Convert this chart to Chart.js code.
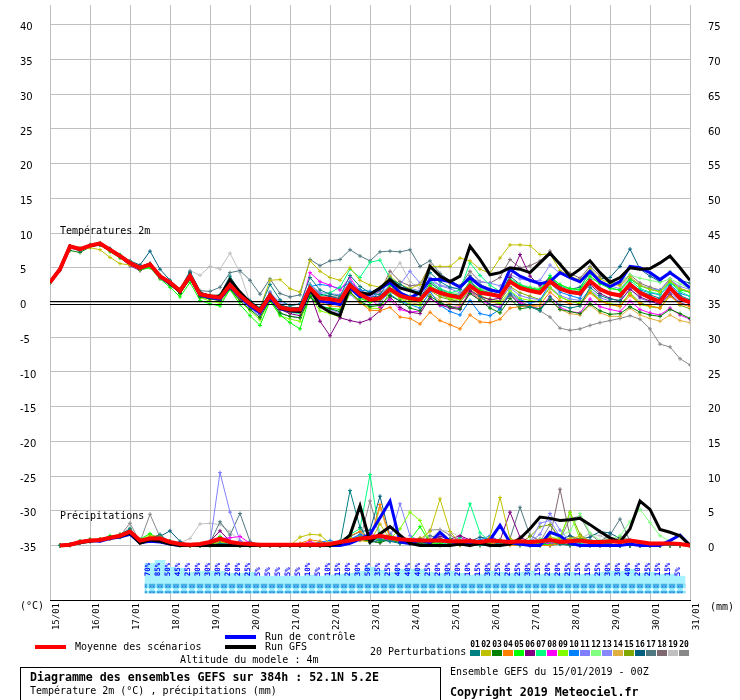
<!DOCTYPE html>
<html><head><meta charset="utf-8">
<script src="https://cdn.jsdelivr.net/npm/chart.js@4.4.1/dist/chart.umd.min.js"></script>
<style>
body{margin:0;background:#fff;}
#wrap{position:relative;width:740px;height:700px;overflow:hidden;font-family:"DejaVu Sans Mono",monospace;font-size:10px;color:#000;background:#fff;}
canvas{position:absolute;left:0;top:0;}
.t{position:absolute;white-space:pre;line-height:12px;}
.b{font-weight:bold;font-size:11.6px;}
.sw{position:absolute;width:10px;height:6px;}
.num{position:absolute;font-weight:bold;font-size:8px;line-height:9px;width:11px;text-align:center;}
.ln{position:absolute;width:31px;height:4px;}
#box{position:absolute;left:20px;top:667px;width:419px;height:40px;border:1px solid #000;}
</style></head><body>
<div id="wrap">
<canvas id="c" width="740" height="700"></canvas>
<div class="t" style="left:60px;top:225px">Températures 2m</div>
<div class="t" style="left:60px;top:510px">Précipitations</div>
<div class="t" style="left:20px;top:600px">(°C)</div>
<div class="t" style="left:710px;top:601px">(mm)</div>
<div class="ln" style="left:35px;top:645px;background:#ff0000"></div>
<div class="t" style="left:75px;top:641px">Moyenne des scénarios</div>
<div class="ln" style="left:225px;top:635px;background:#0000ff"></div>
<div class="t" style="left:265px;top:631px">Run de contrôle</div>
<div class="ln" style="left:225px;top:645px;background:#000"></div>
<div class="t" style="left:265px;top:641px">Run GFS</div>
<div class="t" style="left:180px;top:654px">Altitude du modele : 4m</div>
<div class="t" style="left:370px;top:646px">20 Perturbations</div>
<div id="box"></div>
<div class="t b" style="left:30px;top:671px">Diagramme des ensembles GEFS sur 384h : 52.1N 5.2E</div>
<div class="t" style="left:30px;top:685px">Température 2m (°C) , précipitations (mm)</div>
<div class="t" style="left:450px;top:666px">Ensemble GEFS du 15/01/2019 - 00Z</div>
<div class="t b" style="left:450px;top:686px">Copyright 2019 Meteociel.fr</div>
<div id="swatches"></div>
</div>
<script>
// ---- axes / labels ----
const steps = Array.from({length:65}, (_, i) => i);          // 6-hourly steps, 0..384h
const dayLabels = ['15/01','16/01','17/01','18/01','19/01','20/01','21/01','22/01','23/01','24/01','25/01','26/01','27/01','28/01','29/01','30/01','31/01'];
const tempTicks = [-35,-30,-25,-20,-15,-10,-5,0,5,10,15,20,25,30,35,40];
const precipTicks = [0,5,10,15,20,25,30,35,40,45,50,55,60,65,70,75];
const freezingLevel = 0;
const memberNames = ['01','02','03','04','05','06','07','08','09','10','11','12','13','14','15','16','17','18','19','20'];
const memberColors = ['#008080','#c0c000','#008000','#ff8000','#00ff00','#800080','#00ff80','#ff00ff','#80ff00','#0080ff','#8080ff','#80ff80','#8888ff','#e0b040','#80a800','#005f7f','#507880','#806870','#c0c0c0','#888888'];

// ---- temperature 2m (°C) ----
const meanTemp = [2.9,4.8,8.1,7.7,8.2,8.5,7.6,6.7,5.7,5.0,5.5,3.8,2.9,1.7,3.8,1.2,0.9,0.7,2.5,1.0,-0.2,-1.2,1.0,-0.7,-1.0,-1.0,2.1,0.6,0.5,0.2,2.5,1.2,0.4,0.6,1.9,1.0,0.6,0.4,2.0,1.4,1.0,0.7,2.4,1.4,1.2,0.9,3.0,2.1,1.7,1.4,3.0,2.0,1.5,1.3,3.1,1.9,1.3,1.0,2.6,1.4,0.7,0.1,2.1,0.6,0.0];
const gfsTemp = [2.9,4.8,8.1,7.7,8.2,8.5,7.6,6.7,5.7,5.0,5.5,3.8,2.8,1.6,3.9,1.3,0.9,0.9,3.3,1.5,0.0,-1.1,1.1,-0.8,-1.2,-1.3,1.9,-0.5,-1.4,-1.9,2.4,1.4,1.2,2.1,3.3,2.1,1.7,1.2,5.2,3.8,3.0,3.8,8.1,6.2,4.0,4.3,5.0,4.8,4.3,5.7,7.1,5.5,3.8,4.8,6.0,4.3,2.9,3.6,5.0,4.8,4.9,5.7,6.7,5.0,3.2];
const ctrlTemp = [2.9,4.8,8.1,7.7,8.2,8.5,7.6,6.7,5.7,5.0,5.5,3.7,2.8,1.6,3.7,1.1,0.7,0.5,2.3,0.8,-0.5,-1.5,0.7,-0.9,-1.2,-1.3,1.8,0.2,0.0,-0.3,2.1,0.8,1.2,2.0,2.9,1.4,0.7,1.4,3.3,3.3,3.0,2.2,3.6,2.4,1.8,1.5,4.8,3.8,3.2,2.7,3.0,4.3,3.6,3.0,4.5,3.0,2.3,3.0,5.2,5.0,4.3,3.3,4.3,3.3,2.1];
const p01Temp = [2.9,4.7,8.0,7.4,8.3,8.4,7.8,6.6,5.8,5.1,5.6,3.6,2.7,1.5,4.2,1.0,0.8,1.1,3.8,1.5,0.3,-0.8,2.6,0.4,-0.5,-0.2,3.6,1.8,1.2,0.9,3.9,2.3,1.4,1.1,3.5,2.6,1.8,1.5,4.3,3.0,2.2,1.9,3.4,0.9,-0.3,-0.9,1.2,-0.4,-0.6,-1.2,0.8,-0.4,-0.8,-0.5,2.2,1.0,0.5,0.3,2.8,1.6,1.1,0.6,2.4,1.0,0.4];
const p02Temp = [2.8,4.9,8.0,7.6,7.9,7.6,6.5,5.6,5.4,4.9,5.2,3.5,2.8,1.8,3.5,1.4,1.0,0.8,2.2,0.9,-0.4,-0.8,3.2,3.3,2.0,1.5,6.0,4.5,3.6,3.2,5.0,3.2,2.5,2.2,3.8,2.6,2.0,2.6,5.2,5.2,5.2,6.4,6.0,4.8,4.2,6.4,8.3,8.3,8.2,6.9,7.0,4.6,3.8,3.2,4.9,3.4,2.8,2.4,3.7,2.5,1.9,1.5,3.1,2.0,1.6];
const p03Temp = [2.9,4.8,7.5,7.2,8.0,8.3,7.5,6.6,5.5,4.8,5.2,3.6,2.6,1.3,3.4,0.8,0.5,0.3,2.0,0.2,-1.0,-2.2,0.4,-1.5,-2.0,-2.2,0.8,-0.6,-0.9,-1.3,1.5,0.2,-0.6,-0.4,1.0,0.2,-0.8,-1.2,0.9,0.0,-0.6,-0.9,1.3,0.3,-0.8,-1.5,0.6,-0.9,-0.7,-0.9,0.4,-1.0,-1.3,-1.6,-0.2,-1.2,-1.7,-1.6,-0.6,-1.4,-1.8,-2.0,-1.0,-1.6,-2.3];
const p04Temp = [2.9,4.8,8.0,7.8,8.3,8.5,7.7,6.7,5.6,4.9,5.5,3.9,2.9,1.7,3.9,1.0,0.5,0.3,2.1,0.5,-0.6,-1.6,0.9,-0.9,-1.3,-1.4,1.7,0.0,-0.5,-0.6,1.6,0.0,-1.1,-1.2,-0.7,-2.1,-2.3,-3.1,-1.4,-2.6,-3.2,-3.8,-1.8,-2.8,-2.9,-2.4,-0.8,-0.6,-0.5,-0.3,1.5,0.3,-0.2,-0.4,1.4,0.2,-0.3,-0.5,1.0,-0.2,-0.5,-0.8,0.9,-0.2,-0.6];
const p05Temp = [2.9,4.7,8.0,7.6,8.1,8.3,7.3,6.4,5.6,4.7,5.0,3.4,2.2,0.8,2.9,0.3,-0.2,-0.5,1.9,-0.3,-1.9,-3.3,0.2,-1.8,-2.9,-3.8,1.0,-0.6,-0.8,-1.0,1.9,0.6,0.0,0.5,2.5,1.2,0.5,0.2,2.4,1.6,1.2,0.9,3.0,1.8,1.3,1.0,3.2,2.4,2.0,1.9,3.6,2.6,2.0,1.9,3.8,2.7,2.0,1.8,3.4,2.4,1.9,1.6,3.0,1.8,1.5];
const p06Temp = [2.8,4.7,7.9,7.6,8.1,8.4,7.5,6.5,5.3,4.6,5.3,3.5,2.5,1.4,3.4,0.9,0.6,0.3,2.2,0.6,-0.5,-1.6,0.6,-1.0,-1.6,-1.9,1.4,-2.7,-4.8,-2.2,-2.6,-2.9,-2.4,-1.2,0.8,-0.7,-1.4,-1.6,0.6,-0.3,-0.8,-1.0,1.7,0.9,0.4,0.6,3.6,6.9,3.8,2.4,3.6,2.1,1.6,1.2,2.6,1.3,0.6,0.2,1.9,0.8,0.2,-0.3,1.2,-0.1,-0.4];
const p07Temp = [2.9,4.9,8.0,7.8,8.2,8.6,7.7,6.9,5.6,5.1,5.4,3.9,2.8,1.6,3.9,1.1,0.8,0.6,2.6,0.9,-0.3,-1.5,0.8,-1.0,-1.4,-1.6,2.4,0.9,1.4,2.2,4.8,3.6,5.8,6.1,3.5,2.6,1.9,1.3,3.1,2.0,1.4,1.8,5.7,3.9,2.5,1.6,3.4,2.6,2.0,1.8,3.9,2.5,2.0,1.8,4.9,3.0,2.2,1.7,3.2,2.0,1.5,1.2,2.9,1.6,0.9];
const p08Temp = [2.9,4.8,8.1,7.7,8.2,8.5,7.6,6.7,5.7,5.0,5.4,3.8,2.9,1.6,3.7,1.2,0.9,0.7,2.4,0.9,-0.3,-1.3,0.9,-0.9,-1.2,-1.1,4.3,3.0,2.5,1.8,3.6,1.4,0.6,-0.7,0.4,-1.0,-1.4,-1.2,0.6,-0.4,-0.6,-0.7,1.5,0.3,-0.3,-0.7,1.1,0.0,-0.6,-0.9,0.9,-0.7,-1.3,-1.5,0.5,-0.6,-1.0,-1.3,0.2,-1.0,-1.5,-1.8,-0.8,-1.8,-2.4];
const p09Temp = [2.9,4.8,8.0,7.7,8.2,8.4,7.6,6.7,5.8,5.0,5.5,3.8,2.7,1.2,3.4,0.7,0.2,-0.1,1.9,0.2,-1.2,-2.5,0.3,-1.9,-2.4,-2.7,0.9,-1.2,-1.6,-2.1,1.4,0.0,-0.8,-0.9,1.6,0.6,-0.3,-0.4,2.4,1.2,0.6,0.4,2.3,1.0,0.4,-0.1,1.7,0.6,0.3,0.1,2.2,0.8,0.2,0.0,1.7,0.4,-0.2,-0.3,1.3,-0.3,-0.6,-0.7,1.0,-0.2,-0.4];
const p10Temp = [2.9,4.8,8.1,7.6,8.2,8.5,7.7,6.7,5.7,5.0,5.5,3.8,2.8,1.6,3.7,1.1,0.7,0.5,2.3,0.7,-0.6,-1.7,0.8,-0.9,-1.2,-1.2,2.3,2.6,2.4,2.0,2.9,1.8,1.6,0.6,1.2,0.2,-0.3,-0.8,1.6,-0.4,-1.3,-1.8,0.3,-1.6,-1.9,-1.0,1.5,0.4,-0.1,0.3,2.8,1.5,1.0,0.6,3.3,2.0,1.3,1.0,2.7,1.8,1.4,1.1,2.6,1.3,0.9];
const p11Temp = [2.9,4.7,7.9,7.6,8.2,8.4,7.6,6.5,5.7,5.0,5.3,3.5,2.6,1.6,3.6,1.0,0.6,0.3,2.2,0.4,-0.8,-2.0,0.7,-1.6,-2.0,-2.2,1.2,-0.3,-1.0,-1.5,1.2,-0.1,-0.4,-0.2,1.8,2.6,4.5,2.8,3.6,2.4,2.0,1.4,2.8,1.6,1.1,0.6,2.1,1.0,0.6,0.4,2.2,1.0,0.5,0.3,1.8,0.7,0.2,0.1,2.0,0.6,0.1,-0.2,1.5,0.2,-0.1];
const p12Temp = [2.9,4.8,8.0,7.7,8.1,8.4,7.5,6.6,5.7,5.0,5.4,3.8,2.8,1.5,3.6,1.0,0.7,0.4,2.4,0.8,-0.5,-1.6,1.1,-0.6,-1.0,-1.1,1.9,0.4,0.1,-0.1,2.1,0.9,0.3,0.5,2.0,1.2,0.9,0.6,2.3,1.6,1.4,1.3,2.7,2.0,1.6,1.4,3.0,2.5,2.3,2.0,3.2,2.2,1.9,1.6,3.5,2.8,2.7,3.0,4.0,3.5,3.2,2.9,3.4,2.7,2.0];
const p13Temp = [2.9,4.6,7.8,7.5,8.0,8.3,7.5,6.6,5.6,4.9,5.2,3.6,2.8,1.8,3.7,1.3,1.0,0.8,2.6,1.1,0.1,-0.9,1.4,0.0,-0.3,-0.2,2.6,1.4,1.3,1.1,3.0,1.7,0.9,1.3,2.4,2.2,2.0,1.7,3.1,2.5,2.2,2.0,3.5,3.0,2.8,2.4,4.0,3.4,3.1,3.2,5.4,4.2,3.6,3.0,4.2,3.0,2.4,2.0,3.5,2.5,2.0,1.8,3.2,2.3,1.9];
const p14Temp = [2.9,4.8,8.0,7.7,8.2,8.5,7.6,6.7,5.7,5.0,5.5,3.8,2.9,1.7,3.8,1.2,0.9,0.7,2.5,1.0,-0.2,-1.2,1.0,-0.7,-1.0,-1.0,2.1,0.6,0.5,0.2,2.4,1.0,0.2,0.4,1.7,0.6,0.0,-0.3,1.2,0.3,-0.2,-0.5,1.5,0.6,0.1,-0.1,1.0,-0.3,-0.6,-0.5,0.5,-1.0,-1.6,-1.8,-0.4,-1.5,-2.0,-2.0,-0.8,-1.8,-2.3,-2.7,-1.8,-2.6,-2.9];
const p15Temp = [2.9,4.8,8.1,7.8,8.3,8.5,7.7,6.8,5.8,5.1,5.6,3.9,2.9,1.7,3.8,1.2,0.9,0.7,2.5,0.9,-0.3,-1.4,0.9,-0.9,-1.3,-1.3,1.8,0.3,0.0,-0.2,2.2,0.8,0.1,0.2,1.6,0.7,0.3,0.0,1.7,0.8,0.4,0.1,1.9,0.8,0.5,0.2,2.3,1.4,0.9,0.4,2.1,0.8,0.2,-0.2,1.6,0.3,-0.3,-0.6,1.4,0.0,-0.6,-0.8,1.1,-0.4,-0.9];
const p16Temp = [2.9,4.7,8.0,7.7,8.1,8.4,7.7,6.8,6.0,5.4,7.4,4.8,3.2,1.9,4.3,1.5,1.0,0.8,2.7,1.2,0.0,-0.9,1.5,-0.3,-0.8,-0.7,2.6,1.2,0.9,0.5,2.8,1.5,0.8,0.9,2.6,1.5,0.9,0.7,2.8,1.8,1.3,1.0,3.0,1.8,1.4,1.1,3.8,2.6,2.1,1.8,3.5,2.3,1.9,2.2,4.3,3.4,3.6,5.2,7.7,4.8,3.8,3.0,4.4,3.2,2.8];
const p17Temp = [2.9,4.8,8.0,7.7,8.2,8.5,7.6,6.8,5.8,5.1,5.6,3.9,3.0,1.9,4.5,1.7,1.6,2.2,4.3,4.6,3.2,1.2,3.4,1.3,0.8,1.1,6.2,5.3,6.0,6.2,7.6,6.7,6.0,7.3,7.4,7.3,7.6,5.2,6.0,4.2,3.1,2.4,3.9,2.6,2.0,1.6,3.2,2.4,1.9,1.5,3.1,2.0,1.5,1.2,2.9,1.8,1.2,0.9,2.4,1.2,0.5,0.1,1.9,0.4,-0.1];
const p18Temp = [2.9,4.8,8.0,7.7,8.2,8.5,7.6,6.7,5.7,5.0,5.5,3.8,2.9,1.7,3.8,1.3,1.0,0.8,2.6,1.1,-0.1,-1.1,1.2,-0.4,-0.7,-0.8,2.4,1.0,0.9,0.7,3.0,1.8,1.0,1.6,4.5,3.0,2.4,2.6,5.4,3.6,2.8,2.4,4.5,3.0,2.8,3.6,6.2,5.0,5.3,6.0,7.4,5.6,4.2,3.5,5.2,3.8,3.1,2.6,4.0,2.8,2.2,1.8,3.4,2.0,1.5];
const p19Temp = [2.9,4.8,8.0,7.7,8.2,8.5,7.6,6.7,5.7,5.0,5.5,3.9,3.0,2.0,4.6,3.9,5.2,4.8,7.1,4.3,0.0,-1.0,1.3,-0.5,-0.9,-0.8,2.2,0.7,0.6,0.3,2.6,1.3,0.5,1.8,3.8,5.7,3.0,2.0,3.0,2.0,1.5,1.2,2.5,1.5,1.2,1.0,3.2,2.3,1.9,1.6,3.2,2.2,1.6,1.4,3.3,2.1,1.5,1.2,2.8,1.6,0.9,0.4,2.3,0.8,0.3];
const p20Temp = [2.9,4.8,8.0,7.7,8.2,8.5,7.6,6.7,5.7,5.0,5.5,3.8,2.9,1.7,3.8,1.2,0.9,0.7,2.5,1.0,-0.2,-1.2,1.0,-0.6,-0.9,-0.9,2.2,0.8,0.6,0.3,2.5,1.2,0.5,0.7,2.0,1.1,0.7,0.4,1.9,1.1,0.5,0.1,1.6,0.6,0.1,-0.2,1.3,0.2,-0.5,-1.2,-2.1,-3.7,-4.0,-3.8,-3.3,-2.9,-2.6,-2.3,-1.9,-2.4,-3.8,-6.0,-6.4,-8.1,-9.0];

// ---- 6h precipitation (mm) ----
const meanPrecip = [null,0.0,0.1,0.5,0.7,0.8,1.1,1.4,2.0,0.7,1.0,1.0,0.5,0.2,0.1,0.2,0.5,1.0,0.5,0.3,0.2,0.1,0.1,0.1,0.1,0.1,0.1,0.1,0.2,0.5,0.7,1.0,1.1,1.4,1.1,0.9,0.8,0.7,0.7,0.7,0.6,0.6,0.6,0.5,0.7,0.6,0.5,0.6,0.5,0.6,0.8,0.5,0.6,0.7,0.5,0.5,0.6,0.5,0.7,0.5,0.3,0.3,0.3,0.2,0.0];
const gfsPrecip = [null,0.0,0.1,0.4,0.6,0.8,1.1,1.3,1.8,0.3,0.8,0.6,0.2,0.0,0.0,0.0,0.0,0.0,0.0,0.0,0.0,0.0,0.0,0.0,0.0,0.0,0.0,0.0,0.0,0.3,1.5,5.7,0.5,1.7,2.7,1.5,0.3,0.0,0.0,0.0,0.0,0.2,0.0,0.3,0.0,0.0,0.2,1.0,2.4,4.1,3.9,3.6,3.7,3.9,3.0,2.0,1.1,0.5,2.4,6.4,5.2,2.3,1.9,1.4,0.0];
const ctrlPrecip = [null,0.0,0.1,0.5,0.7,0.6,1.0,1.2,1.6,0.4,0.6,0.5,0.2,0.0,0.0,0.0,0.0,0.0,0.0,0.0,0.0,0.0,0.0,0.0,0.0,0.0,0.0,0.0,0.0,0.0,0.3,0.9,1.6,4.0,6.4,0.5,0.3,0.8,0.4,1.9,0.6,0.2,0.1,0.3,0.8,2.9,0.4,0.2,0.0,0.0,1.9,1.4,0.3,0.0,0.0,0.0,0.0,0.0,0.2,0.0,0.0,0.0,0.7,1.5,0.0];
const p01Precip = [null,0.0,0.1,0.6,0.8,0.7,1.2,1.5,2.4,0.5,0.9,1.6,0.4,0.1,0.0,0.0,0.0,0.3,0.2,0.0,0.0,0.0,0.0,0.0,0.0,0.0,0.0,0.0,0.0,0.2,7.9,2.6,0.4,0.8,0.6,0.3,0.2,0.5,0.1,0.0,0.0,0.3,0.2,0.0,0.0,0.4,0.2,0.0,0.0,0.0,0.6,0.2,0.0,0.0,0.0,0.4,0.2,0.0,0.0,0.0,0.0,0.0,0.0,0.0,0.0];
const p02Precip = [null,0.0,0.1,0.4,0.6,0.9,1.0,1.6,2.2,0.6,1.2,0.8,0.3,0.0,0.0,0.0,0.0,0.4,0.1,0.0,0.0,0.0,0.0,0.0,0.0,1.2,1.6,1.5,0.3,0.4,1.1,0.7,0.5,3.1,0.9,0.6,0.4,0.9,2.0,6.7,2.0,0.3,0.2,0.0,1.2,6.9,1.0,0.3,0.0,0.6,1.2,0.8,1.0,1.3,0.6,0.2,0.4,0.9,0.3,0.0,0.0,0.0,0.0,0.0,0.0];
const p03Precip = [null,0.0,0.0,0.5,0.7,0.8,1.0,1.2,1.9,0.8,1.1,1.0,0.6,0.2,0.0,0.0,0.1,0.8,0.3,0.0,0.0,0.0,0.0,0.0,0.0,0.0,0.0,0.0,0.0,0.3,0.8,0.9,0.6,0.4,0.9,0.3,0.5,0.2,0.3,0.8,0.2,0.1,0.4,0.2,0.1,0.0,0.7,0.5,0.2,0.5,0.9,0.3,0.1,0.0,0.2,0.3,0.1,0.0,0.0,0.0,0.0,0.0,0.0,0.0,0.0];
const p04Precip = [null,0.0,0.1,0.5,0.8,0.9,1.1,1.4,1.9,0.6,1.3,1.4,0.5,0.1,0.0,0.0,0.2,0.6,0.3,0.0,0.0,0.0,0.0,0.0,0.0,0.3,0.8,0.6,0.1,0.5,1.4,2.0,0.8,5.9,1.2,0.4,0.3,1.0,0.2,0.0,0.1,0.0,0.0,0.0,0.4,0.1,0.0,0.0,0.2,0.0,0.0,0.3,0.0,0.0,0.0,0.0,0.0,0.2,0.0,0.0,0.0,0.0,0.0,0.0,0.0];
const p05Precip = [null,0.0,0.1,0.6,0.9,0.8,1.4,1.3,2.1,0.9,1.7,0.9,0.4,0.0,0.0,0.0,0.3,1.3,0.4,0.0,0.0,0.0,0.0,0.0,0.0,0.0,0.0,0.0,0.0,0.4,0.9,1.2,1.5,0.6,1.4,0.7,0.8,2.7,0.4,0.3,0.9,0.3,0.5,0.1,0.3,0.8,0.2,0.3,0.6,0.2,0.1,0.4,0.5,1.0,0.3,0.1,0.2,0.0,0.0,0.0,0.0,0.0,0.0,0.0,0.0];
const p06Precip = [null,0.0,0.1,0.4,0.7,0.9,1.2,1.5,2.2,0.7,0.9,0.8,0.4,0.1,0.0,0.0,0.6,2.1,0.6,0.0,0.0,0.0,0.0,0.0,0.0,0.0,0.0,0.0,0.0,0.2,0.6,0.9,0.7,0.4,1.3,0.6,0.2,0.3,0.5,1.3,0.9,1.4,0.8,0.5,1.1,0.7,4.8,1.2,0.5,0.2,0.0,0.3,0.0,0.0,0.2,0.0,0.0,0.0,0.0,0.0,0.0,0.0,0.0,0.0,0.0];
const p07Precip = [null,0.0,0.1,0.5,0.7,0.8,1.3,1.4,2.3,0.7,1.0,1.1,0.6,0.1,0.0,0.0,0.2,0.6,0.5,0.0,0.0,0.0,0.0,0.0,0.0,0.0,0.0,0.0,0.0,0.6,1.6,2.4,10.2,1.4,0.9,0.6,0.8,0.9,0.5,0.3,0.2,1.1,6.0,1.8,0.6,0.3,0.2,0.5,0.2,0.0,0.0,0.2,0.6,0.3,0.0,0.0,0.0,0.0,0.0,0.0,0.0,0.0,0.0,0.0,0.0];
const p08Precip = [null,0.0,0.1,0.5,0.8,0.9,1.0,1.4,1.9,0.5,0.9,0.8,0.4,0.1,0.0,0.0,0.1,1.0,1.1,1.3,0.3,0.0,0.0,0.0,0.0,0.0,0.6,0.0,0.0,0.3,0.6,1.1,1.8,1.2,0.7,0.8,0.4,0.5,0.6,0.3,0.4,1.2,0.6,0.5,0.3,0.2,0.3,0.2,0.0,0.2,0.3,0.2,0.4,0.3,0.0,0.0,0.0,0.0,0.0,0.0,0.0,0.0,0.0,0.0,0.0];
const p09Precip = [null,0.0,0.1,0.6,0.7,0.7,1.2,1.5,2.0,0.8,1.4,0.9,0.5,0.1,0.0,0.0,0.0,0.5,0.3,0.0,0.0,0.0,0.0,0.0,0.0,0.0,0.0,0.0,0.0,0.4,0.9,1.0,1.5,0.7,0.9,2.4,4.8,3.6,0.6,0.8,0.4,0.2,0.3,0.2,0.4,0.2,0.6,0.3,0.0,0.2,0.6,1.2,4.7,0.9,0.3,0.0,0.0,0.0,0.0,0.0,0.0,0.0,0.0,0.0,0.0];
const p10Precip = [null,0.0,0.1,0.5,0.6,0.9,1.1,1.2,2.2,0.6,1.0,1.2,0.5,0.3,0.0,0.0,0.2,0.5,0.4,0.0,0.0,0.0,0.0,0.0,0.0,0.0,0.0,0.5,0.7,0.4,0.9,1.6,1.3,0.9,0.6,0.5,0.4,0.9,0.3,0.6,0.4,0.3,0.5,0.8,1.4,0.6,0.3,0.2,0.4,0.2,0.6,0.5,0.3,0.2,0.0,0.0,0.0,0.0,0.0,0.0,0.0,0.0,0.0,0.0,0.0];
const p11Precip = [null,0.0,0.1,0.4,0.7,0.8,1.0,1.3,1.8,0.6,0.9,0.8,0.4,0.0,0.0,0.0,0.3,10.5,4.8,0.7,0.0,0.0,0.0,0.0,0.0,0.0,0.0,0.0,0.0,0.2,0.6,0.8,1.2,0.6,0.9,6.0,1.4,0.6,0.8,0.5,0.3,0.4,0.6,0.3,0.2,0.8,0.5,0.3,0.5,1.6,4.6,2.2,0.6,0.3,0.4,0.0,0.0,0.0,0.0,0.0,0.0,0.0,0.0,0.0,0.0];
const p12Precip = [null,0.0,0.1,0.5,0.7,0.9,1.2,1.4,2.0,0.6,1.0,1.0,0.5,0.1,0.0,0.0,0.1,0.7,0.3,0.0,0.0,0.0,0.0,0.0,0.0,0.0,0.0,0.0,0.0,0.3,0.7,0.9,1.1,0.8,0.6,0.5,0.3,0.2,0.4,0.2,0.3,0.5,0.4,0.2,0.3,0.2,0.3,0.4,0.6,0.9,1.1,1.3,2.1,4.6,1.8,0.7,0.9,1.4,3.4,5.2,3.3,1.4,0.6,0.2,0.0];
const p13Precip = [null,0.0,0.1,0.5,0.6,0.8,1.1,1.5,2.1,0.7,1.1,0.9,0.4,0.1,0.0,0.0,0.2,0.8,0.5,0.3,0.0,0.0,0.0,0.0,0.0,0.0,0.0,0.0,0.0,0.4,1.0,1.3,0.9,0.7,1.8,0.6,0.4,0.3,0.5,0.4,0.7,0.3,0.4,0.3,0.5,0.2,0.4,0.6,0.4,3.2,3.6,1.3,0.4,0.2,0.0,0.0,0.0,0.0,0.0,0.0,0.0,0.0,0.0,0.0,0.0];
const p14Precip = [null,0.0,0.1,0.5,0.7,0.8,1.1,1.3,1.8,0.5,0.9,0.8,0.4,0.1,0.0,0.0,0.0,0.3,0.2,0.0,0.0,0.0,0.0,0.0,0.0,0.2,0.5,0.4,0.2,0.4,0.9,1.1,0.7,5.4,1.0,0.6,0.3,0.4,0.2,0.1,0.3,0.2,0.1,0.2,0.0,0.2,0.3,0.1,0.2,0.4,0.3,0.2,0.1,0.3,0.2,0.4,0.6,0.4,0.2,0.0,0.0,0.0,0.0,0.0,0.0];
const p15Precip = [null,0.0,0.1,0.6,0.8,0.9,1.2,1.5,2.2,0.7,1.0,1.1,0.5,0.1,0.0,0.0,0.1,0.6,0.2,0.0,0.0,0.0,0.0,0.0,0.0,0.0,0.2,0.0,0.0,0.5,0.8,1.0,1.4,1.0,0.8,0.5,0.6,1.1,0.3,0.2,0.4,0.6,0.2,0.2,0.3,0.4,0.2,0.3,1.3,2.7,3.0,1.1,4.8,1.6,0.5,0.3,0.2,0.0,0.0,0.0,0.0,0.0,0.0,0.0,0.0];
const p16Precip = [null,0.0,0.1,0.4,0.6,0.7,1.0,1.6,2.3,0.8,1.3,1.3,2.1,0.6,0.0,0.0,0.2,0.7,0.4,0.0,0.0,0.0,0.0,0.0,0.0,0.0,0.0,0.0,0.0,0.6,1.3,2.0,2.2,7.1,1.2,0.8,0.6,0.5,0.4,0.3,0.2,0.4,0.6,1.2,0.9,0.4,0.2,0.3,0.5,0.4,0.6,0.8,1.4,0.9,1.2,2.0,1.8,1.0,0.5,0.3,0.0,0.0,0.0,0.0,0.0];
const p17Precip = [null,0.0,0.1,0.5,0.8,0.9,1.2,1.4,2.2,0.7,1.1,1.0,0.6,0.3,0.0,0.0,0.4,3.4,1.5,4.6,0.6,0.0,0.0,0.0,0.0,0.0,0.0,0.0,0.0,0.2,0.9,1.4,1.4,1.1,0.9,0.6,0.5,0.3,1.4,1.0,0.6,0.4,0.8,0.3,0.6,0.3,1.0,5.5,1.4,0.7,0.5,0.4,0.6,0.9,0.8,0.6,1.5,3.8,0.6,0.3,0.0,0.0,0.0,0.0,0.0];
const p18Precip = [null,0.0,0.1,0.5,0.7,0.8,1.1,1.4,2.0,0.6,1.0,0.9,0.5,0.1,0.0,0.0,0.1,0.6,0.3,0.0,0.0,0.0,0.0,0.0,0.0,0.0,0.0,0.0,0.0,0.3,0.8,1.0,1.6,0.9,0.7,0.5,0.6,0.4,0.3,0.2,0.4,0.3,0.2,0.4,0.3,0.2,0.6,0.5,0.4,0.9,1.2,8.1,1.3,0.6,0.4,0.3,0.2,0.0,0.0,0.0,0.0,0.0,0.0,0.0,0.0];
const p19Precip = [null,0.0,0.1,0.5,0.7,0.8,1.1,1.5,2.6,0.6,0.9,0.8,0.4,0.4,1.0,3.1,3.2,3.0,2.0,0.6,0.0,0.0,0.0,0.0,0.0,0.0,0.0,0.0,0.0,0.3,0.7,1.0,1.2,0.8,1.5,0.7,0.4,0.6,0.9,2.2,2.0,1.2,0.6,0.4,0.3,0.5,0.4,0.3,0.2,0.4,0.6,0.7,0.9,1.0,1.7,1.4,0.8,0.5,0.3,0.0,0.0,0.0,0.0,0.0,0.0];
const p20Precip = [null,0.0,0.1,0.5,0.7,0.8,1.2,1.4,3.2,0.5,4.5,1.2,0.3,0.0,0.0,0.0,0.0,0.5,0.2,0.0,0.0,0.0,0.0,0.0,0.0,0.0,0.0,0.0,0.0,0.2,0.6,0.8,6.4,1.0,0.6,0.5,0.3,0.4,2.2,2.3,1.5,0.6,0.4,0.3,0.4,0.2,0.3,0.4,0.6,0.5,3.0,0.8,3.9,4.2,1.6,0.5,0.3,1.3,0.8,0.3,0.0,0.0,0.0,0.0,0.0];

// ---- probability of precipitation (%) per 6h step, from step 10 ----
const probStart = 10;
const precipProb = [70,85,50,45,25,30,30,30,20,20,25,5,5,5,5,5,10,5,10,15,20,30,50,35,25,40,40,40,25,20,30,20,10,15,30,25,20,25,30,15,20,20,25,15,15,25,30,30,40,20,25,15,15,5];

const memberTemps = [p01Temp,p02Temp,p03Temp,p04Temp,p05Temp,p06Temp,p07Temp,p08Temp,p09Temp,p10Temp,p11Temp,p12Temp,p13Temp,p14Temp,p15Temp,p16Temp,p17Temp,p18Temp,p19Temp,p20Temp];
const memberPrecips = [p01Precip,p02Precip,p03Precip,p04Precip,p05Precip,p06Precip,p07Precip,p08Precip,p09Precip,p10Precip,p11Precip,p12Precip,p13Precip,p14Precip,p15Precip,p16Precip,p17Precip,p18Precip,p19Precip,p20Precip];

// legend swatches
const sw = document.getElementById('swatches');
memberNames.forEach((n, k) => {
  const d = document.createElement('div'); d.className = 'num'; d.style.left = (470 + k*11 - 0.5) + 'px'; d.style.top = '640px'; d.textContent = n; sw.appendChild(d);
  const s = document.createElement('div'); s.className = 'sw'; s.style.left = (470 + k*11) + 'px'; s.style.top = '650px'; s.style.background = memberColors[k]; sw.appendChild(s);
});

function bandPattern(){
  const c = document.createElement('canvas'); c.width = 8; c.height = 9;
  const g = c.getContext('2d');
  g.fillStyle = '#4aaee6'; g.fillRect(0,0,8,9);
  g.fillStyle = '#8ee8ff'; g.fillRect(3,0,2,9); g.fillRect(0,3,8,3);
  g.fillStyle = '#e0ffff'; g.fillRect(3,3,2,3); g.fillRect(2,4,4,1);
  g.fillStyle = '#2d86d8'; g.fillRect(1,1,1,1); g.fillRect(6,1,1,1); g.fillRect(1,7,1,1); g.fillRect(6,7,1,1);
  return g.createPattern(c, 'repeat');
}

const datasets = [];
datasets.push({label:'Moyenne', data:meanTemp, borderColor:'#ff0000', borderWidth:4, pointRadius:0, yAxisID:'y', order:0});
datasets.push({label:'GFS', data:gfsTemp, borderColor:'#000000', borderWidth:3, pointRadius:0, yAxisID:'y', order:1});
datasets.push({label:'Controle', data:ctrlTemp, borderColor:'#0000ff', borderWidth:3, pointRadius:0, yAxisID:'y', order:2});
memberTemps.forEach((d, k) => datasets.push({label:'T'+memberNames[k], data:d, borderColor:memberColors[k], borderWidth:1, pointStyle:'cross', pointRadius:2, pointBorderWidth:1, pointBorderColor:memberColors[k], yAxisID:'y', order:3}));
datasets.push({label:'MoyenneP', data:meanPrecip, borderColor:'#ff0000', borderWidth:4, pointRadius:0, yAxisID:'yR', order:0});
datasets.push({label:'GFSP', data:gfsPrecip, borderColor:'#000000', borderWidth:3, pointRadius:0, yAxisID:'yR', order:1});
datasets.push({label:'ControleP', data:ctrlPrecip, borderColor:'#0000ff', borderWidth:3, pointRadius:0, yAxisID:'yR', order:2});
memberPrecips.forEach((d, k) => datasets.push({label:'P'+memberNames[k], data:d, borderColor:memberColors[k], borderWidth:1, pointStyle:'cross', pointRadius:2, pointBorderWidth:1, pointBorderColor:memberColors[k], yAxisID:'yR', order:3}));
datasets.push({type:'bar', label:'prob', data:precipProb.map((p,k)=>({x:probStart+k, y:[-40, p]})), backgroundColor:'#a8f2ff', borderWidth:0, barPercentage:1, categoryPercentage:1, grouped:false, xAxisID:'x', yAxisID:'yS', order:6});
datasets.push({type:'bar', label:'band', data:precipProb.map((p,k)=>({x:probStart+k, y:[-80, -35]})), backgroundColor:bandPattern(), borderWidth:0, barPercentage:1, categoryPercentage:1, grouped:false, xAxisID:'x', yAxisID:'yS', order:5});

const overlay = {
  id:'overlay',
  beforeDatasetDraw(chart, args){
    if (args.index !== 2) return;
    const {ctx, chartArea:a} = chart;
    const y0 = chart.scales.y.getPixelForValue(freezingLevel);
    ctx.save(); ctx.strokeStyle = '#000'; ctx.lineWidth = 1;
    [-2, 1].forEach(d => { const yy = Math.round(y0 + d) + 0.5; ctx.beginPath(); ctx.moveTo(a.left, yy); ctx.lineTo(a.right, yy); ctx.stroke(); });
    ctx.restore();
  },
  afterDatasetsDraw(chart){
    const {ctx} = chart; const xs = chart.scales.x, ys = chart.scales.yS;
    const base = ys.getPixelForValue(0) - 1;
    ctx.save(); ctx.fillStyle = '#0000ff'; ctx.font = 'bold 7.5px "DejaVu Sans Mono"'; ctx.textAlign = 'left'; ctx.textBaseline = 'middle';
    precipProb.forEach((p, k) => {
      const px = xs.getPixelForValue(probStart + k) - 1.5;
      ctx.save(); ctx.translate(px, base); ctx.rotate(-Math.PI/2); ctx.fillText(p + '%', 0, 0); ctx.restore();
    });
    ctx.restore();
  }
};

new Chart(document.getElementById('c'), {
  type:'line',
  data:{labels:steps, datasets},
  options:{
    responsive:false, animation:false, events:[],
    layout:{padding:{left:20, top:0, right:0, bottom:0}},
    plugins:{legend:{display:false}, tooltip:{enabled:false}, title:{display:false}},
    elements:{line:{tension:0}, point:{radius:0}},
    scales:{
      x:{type:'linear', position:'bottom', min:0, max:64, offset:false,
        afterBuildTicks:s => { s.ticks = dayLabels.map((_, d) => ({value:d*4})); },
        ticks:{autoSkip:false, maxRotation:90, minRotation:90, labelOffset:7, padding:3, color:'#000', font:{family:'"DejaVu Sans Mono", monospace', size:9}, callback:(v, i) => dayLabels[i]},
        grid:{color:'#c0c0c0', lineWidth:1, drawTicks:false, offset:false},
        border:{display:true, color:'#000', width:1},
        afterFit:s => { s.height = 100; s.paddingLeft = 0; s.paddingRight = 0; }
      },
      y:{type:'linear', position:'left', min:-300/7, max:300/7,
        afterBuildTicks:s => { s.ticks = tempTicks.map(v => ({value:v})); },
        ticks:{autoSkip:false, crossAlign:'far', padding:0, labelOffset:3, color:'#000', font:{family:'"DejaVu Sans", sans-serif', size:10}},
        grid:{color:'#c0c0c0', lineWidth:1, drawTicks:false},
        border:{display:false},
        afterFit:s => { s.width = 30; s.paddingTop = 0; s.paddingBottom = 0; }
      },
      yR:{type:'linear', position:'right', min:-55/7, max:545/7,
        afterBuildTicks:s => { s.ticks = precipTicks.map(v => ({value:v})); },
        ticks:{autoSkip:false, crossAlign:'near', padding:18, labelOffset:3, color:'#000', font:{family:'"DejaVu Sans", sans-serif', size:10}},
        grid:{display:false, drawTicks:false},
        border:{display:false},
        afterFit:s => { s.width = 50; s.paddingTop = 0; s.paddingBottom = 0; }
      },
      yS:{type:'linear', display:false, min:-115, max:2885}
    }
  },
  plugins:[overlay]
});
</script>
</body></html>
